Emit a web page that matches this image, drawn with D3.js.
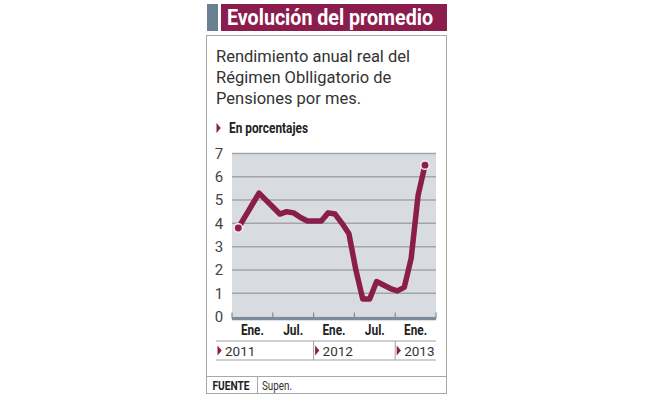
<!DOCTYPE html>
<html>
<head>
<meta charset="utf-8">
<script src="https://cdn.jsdelivr.net/npm/d3@7"></script>
<style>
  body { margin: 0; background: #fff; }
  svg { display: block; }
  .cond { font-family: Roboto, "Liberation Sans", sans-serif; font-weight: bold; }
  .reg { font-family: Roboto, "Open Sans", sans-serif; }
</style>
</head>
<body>
<svg width="653" height="398"></svg>
<script>
// monthly values, Jan 2011 .. Apr 2013
var months = ["2011-01","2011-02","2011-03","2011-04","2011-05","2011-06","2011-07","2011-08","2011-09","2011-10","2011-11","2011-12",
              "2012-01","2012-02","2012-03","2012-04","2012-05","2012-06","2012-07","2012-08","2012-09","2012-10","2012-11","2012-12",
              "2013-01","2013-02","2013-03","2013-04"];
var values = [3.8, 4.3, 4.8, 5.3, 5.0, 4.7, 4.4, 4.5, 4.45, 4.25, 4.1, 4.1,
              4.1, 4.45, 4.4, 4.0, 3.55, 2.0, 0.75, 0.75, 1.5, 1.35, 1.2, 1.1,
              1.25, 2.5, 5.2, 6.5];
var halfLabels = ["Ene.", "Jul.", "Ene.", "Jul.", "Ene."];
var yTicks = [0, 1, 2, 3, 4, 5, 6, 7];
var years = ["2011", "2012", "2013"];
var yearStartHalf = [0, 2, 4]; // half-year index where each year begins
var title = "Evolución del promedio";
var subtitle = ["Rendimiento anual real del", "Régimen Oblligatorio de", "Pensiones por mes."];
var unitLabel = "En porcentajes";
var source = "Supen.";

var maroon = "#8b1d4d";
var svg = d3.select("svg");

// header
svg.append("rect").attr("x", 207).attr("y", 4).attr("width", 11).attr("height", 27).attr("fill", "#6a7f92");
svg.append("rect").attr("x", 221).attr("y", 4).attr("width", 226).attr("height", 27).attr("fill", maroon);
svg.append("text")
    .attr("class", "cond")
    .attr("x", 227).attr("y", 25)
    .attr("font-size", "22px")
    .attr("fill", "#fff")
    .attr("textLength", 206).attr("lengthAdjust", "spacingAndGlyphs")
    .text(title);

// panel frame
svg.append("rect").attr("x", 206.5).attr("y", 35.5).attr("width", 240).attr("height", 358)
    .attr("fill", "none").attr("stroke", "#a8a8a8");

svg.append("g").selectAll("text")
    .data(subtitle)
    .enter()
    .append("text")
    .attr("class", "reg")
    .attr("x", 216)
    .attr("y", (d, i) => 62 + i * 21)
    .attr("font-size", "16.5px")
    .attr("fill", "#333")
    .text(d => d);

// little triangle marker
function tri(g, x, y, s) {
    g.append("path")
        .attr("d", `M${x},${y - s} L${x + s * 0.85},${y} L${x},${y + s} Z`)
        .attr("fill", maroon);
}

tri(svg, 216.5, 128, 5);
svg.append("text")
    .attr("class", "cond")
    .attr("x", 229).attr("y", 133)
    .attr("font-size", "14px")
    .attr("fill", "#222")
    .attr("textLength", 79).attr("lengthAdjust", "spacingAndGlyphs")
    .text(unitLabel);

// scales
var plotL = 232, plotR = 436;
var y = d3.scaleLinear().domain([0, 7]).range([316.5, 153.5]);
var xHalf = d3.scaleLinear().domain([0, halfLabels.length]).range([plotL, plotR]);
var x = d3.scaleLinear().domain([0, months.length - 1]).range([238.3, 425]);

svg.append("rect")
    .attr("x", plotL).attr("y", y(7))
    .attr("width", plotR - plotL).attr("height", y(0) - y(7))
    .attr("fill", "#d8dce0");

svg.append("g").selectAll("line")
    .data(yTicks.filter(d => d > 0))
    .enter()
    .append("line")
    .attr("x1", plotL).attr("x2", plotR)
    .attr("y1", d => y(d)).attr("y2", d => y(d))
    .attr("stroke", "#a2a6aa").attr("stroke-width", 1.5);

svg.append("g").selectAll("text")
    .data(yTicks)
    .enter()
    .append("text")
    .attr("class", "reg")
    .attr("x", 219)
    .attr("y", d => y(d))
    .attr("dy", "0.36em")
    .attr("text-anchor", "middle")
    .attr("font-size", "15px")
    .attr("fill", "#444")
    .text(d => d);

// bottom axis
svg.append("line")
    .attr("x1", plotL).attr("x2", plotR)
    .attr("y1", y(0) + 2).attr("y2", y(0) + 2)
    .attr("stroke", "#7d8c9b").attr("stroke-width", 3.5);

svg.append("g").selectAll("line")
    .data(d3.range(halfLabels.length + 1))
    .enter()
    .append("line")
    .attr("x1", d => xHalf(d)).attr("x2", d => xHalf(d))
    .attr("y1", y(0) - 4).attr("y2", y(0) + 2)
    .attr("stroke", "#7d8c9b").attr("stroke-width", 1.2);

svg.append("g").selectAll("text")
    .data(halfLabels)
    .enter()
    .append("text")
    .attr("class", "cond")
    .attr("x", (d, i) => xHalf(i + 0.5))
    .attr("y", 335)
    .attr("text-anchor", "middle")
    .attr("font-size", "14px")
    .attr("fill", "#222")
    .attr("textLength", d => d == "Jul." ? 20 : 23).attr("lengthAdjust", "spacingAndGlyphs")
    .text(d => d);

// year row
var yr = svg.append("g");
yr.append("line").attr("x1", 216).attr("x2", plotR).attr("y1", 341).attr("y2", 341).attr("stroke", "#a0a0a0");
yr.append("line").attr("x1", 216).attr("x2", plotR).attr("y1", 360).attr("y2", 360).attr("stroke", "#a0a0a0");
years.forEach(function(yv, i) {
    var x0 = i == 0 ? 216 : xHalf(yearStartHalf[i]);
    if (i > 0) {
        yr.append("line").attr("x1", x0).attr("x2", x0).attr("y1", 341).attr("y2", 360).attr("stroke", "#a0a0a0");
    }
    tri(yr, x0 + 1.5, 350.5, 5);
    yr.append("text")
        .attr("class", "reg")
        .attr("x", x0 + 9).attr("y", 355.5)
        .attr("font-size", "13.5px")
        .attr("fill", "#333")
        .text(yv);
});

// the line
var line = d3.line()
    .x((d, i) => x(i))
    .y(d => y(d));

svg.append("path")
    .datum(values)
    .attr("d", line)
    .attr("fill", "none")
    .attr("stroke", maroon)
    .attr("stroke-width", 5.5)
    .attr("stroke-linejoin", "round")
    .attr("stroke-linecap", "round");

svg.append("g").selectAll("circle")
    .data([0, values.length - 1])
    .enter()
    .append("circle")
    .attr("cx", d => x(d))
    .attr("cy", d => y(values[d]))
    .attr("r", 4.2)
    .attr("fill", maroon)
    .attr("stroke", "#fbe9f0")
    .attr("stroke-width", 1.5);

// footer
svg.append("line").attr("x1", 207).attr("x2", 446).attr("y1", 376.5).attr("y2", 376.5).attr("stroke", "#a8a8a8");
svg.append("line").attr("x1", 257.5).attr("x2", 257.5).attr("y1", 376.5).attr("y2", 393.5).attr("stroke", "#a8a8a8");
svg.append("text")
    .attr("class", "cond")
    .attr("x", 212.5).attr("y", 390)
    .attr("font-size", "13px")
    .attr("fill", "#222")
    .attr("textLength", 37).attr("lengthAdjust", "spacingAndGlyphs")
    .text("FUENTE");
svg.append("text")
    .attr("class", "reg")
    .attr("x", 262).attr("y", 390)
    .attr("font-size", "13px")
    .attr("fill", "#333")
    .attr("textLength", 30).attr("lengthAdjust", "spacingAndGlyphs")
    .text(source);
</script>
</body>
</html>
